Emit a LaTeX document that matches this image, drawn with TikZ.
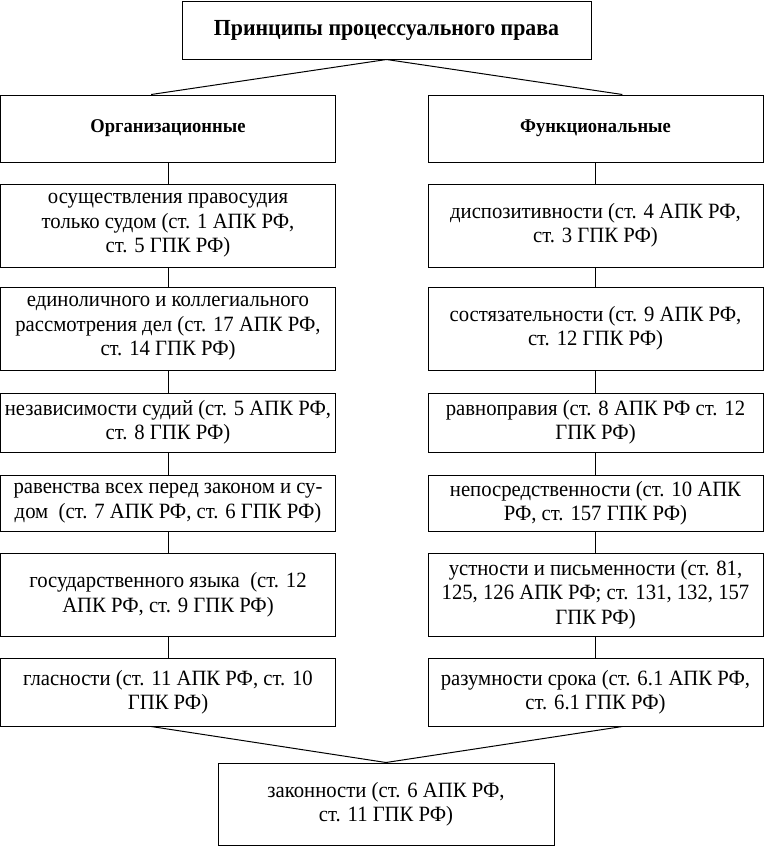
\documentclass[tikz,border=0pt]{standalone}
\usepackage{fontspec}
\setmainfont[FakeStretch=0.95]{Liberation Serif}
\usepackage{tikz}
\usetikzlibrary{calc}
\tikzset{
  box/.style={draw, line width=1pt, align=center, inner sep=2pt,
    font=\fontsize{21.8}{24.5}\selectfont},
  headbox/.style={box, font=\bfseries\fontsize{19.5}{22}\selectfont},
}

\begin{document}
\begin{tikzpicture}[x=1pt,y=-1pt]
			\useasboundingbox (0,0) rectangle (765,846);
			% heading
			\node[box, minimum width=409pt, minimum height=58pt, font=\bfseries\fontsize{23}{26}\selectfont] (top) at (386.5,30) {Принципы процессуального права};
			\node[headbox, minimum width=335pt, minimum height=67pt] (org) at (168,128.5) {Организационные};
			\node[headbox, minimum width=335pt, minimum height=67pt] (func) at (595.5,128.5) {Функциональные};
			% left column
			\node[box, minimum width=335pt, minimum height=83pt] (l1) at (168,225.5) {осуществления правосудия\\только судом (ст. 1 АПК РФ,\\ст. 5 ГПК РФ)};
			\node[box, minimum width=335pt, minimum height=83pt] (l2) at (168,328.5) {единоличного и коллегиального\\рассмотрения дел (ст. 17 АПК РФ,\\ст. 14 ГПК РФ)};
			\node[box, minimum width=335pt, minimum height=59pt] (l3) at (168,422.5) {независимости судий (ст. 5 АПК РФ,\\ст. 8 ГПК РФ)};
			\node[box, minimum width=335pt, minimum height=56pt] (l4) at (168,503) {равенства всех перед законом и су-\\дом\ \ (ст. 7 АПК РФ, ст. 6 ГПК РФ)};
			\node[box, minimum width=335pt, minimum height=83pt] (l5) at (168,594.5) {государственного языка\ \ (ст. 12\\АПК РФ, ст. 9 ГПК РФ)};
			\node[box, minimum width=335pt, minimum height=68pt] (l6) at (168,692) {гласности (ст. 11 АПК РФ, ст. 10\\ГПК РФ)};
			% right column
			\node[box, minimum width=335pt, minimum height=83pt] (r1) at (595.5,225.5) {диспозитивности (ст. 4 АПК РФ,\\ст. 3 ГПК РФ)};
			\node[box, minimum width=335pt, minimum height=83pt] (r2) at (595.5,328.5) {состязательности (ст. 9 АПК РФ,\\ст. 12 ГПК РФ)};
			\node[box, minimum width=335pt, minimum height=59pt] (r3) at (595.5,422.5) {равноправия (ст. 8 АПК РФ ст. 12\\ГПК РФ)};
			\node[box, minimum width=335pt, minimum height=56pt] (r4) at (595.5,503) {непосредственности (ст. 10 АПК\\РФ, ст. 157 ГПК РФ)};
			\node[box, minimum width=335pt, minimum height=83pt] (r5) at (595.5,594.5) {устности и письменности (ст. 81,\\125, 126 АПК РФ; ст. 131, 132, 157\\ГПК РФ)};
			\node[box, minimum width=335pt, minimum height=68pt] (r6) at (595.5,692) {разумности срока (ст. 6.1 АПК РФ,\\ст. 6.1 ГПК РФ)};
			% bottom
			\node[box, minimum width=336pt, minimum height=82pt] (bot) at (386,804) {законности (ст. 6 АПК РФ,\\ст. 11 ГПК РФ)};
			% connectors
			\draw[line width=1pt] (top.south) -- ($(org.north west)!0.45!(org.north east)$);
			\draw[line width=1pt] (top.south) -- ($(func.north west)!0.58!(func.north east)$);
			\draw[line width=1pt] ($(l6.south west)!0.45!(l6.south east)$) -- (bot.north);
			\draw[line width=1pt] ($(r6.south west)!0.58!(r6.south east)$) -- (bot.north);
			\foreach \a/\b in {org/l1,l1/l2,l2/l3,l3/l4,l4/l5,l5/l6,func/r1,r1/r2,r2/r3,r3/r4,r4/r5,r5/r6}
				\draw[line width=1pt] (\a.south) -- (\b.north);
\end{tikzpicture}
\end{document}
